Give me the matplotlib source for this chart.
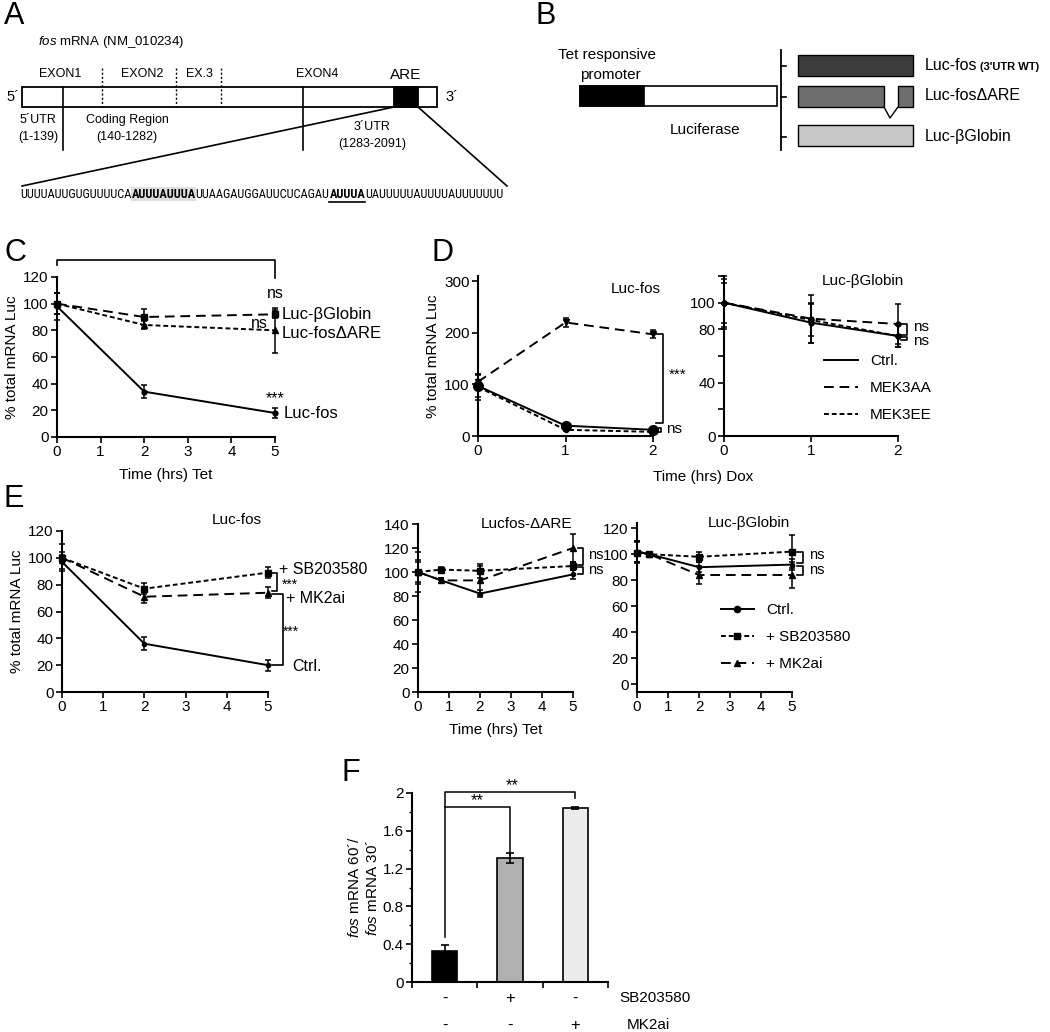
import matplotlib
matplotlib.use("Agg")
import matplotlib.pyplot as plt
from matplotlib import font_manager
from matplotlib.patches import Rectangle

fonts = font_manager.fontManager.ttflist
names = {f.name for f in fonts}
base = 'Liberation Sans' if 'Liberation Sans' in names else 'DejaVu Sans'
# a condensed face for the long RNA sequence, if one is installed
narrow, narrow_stretch = base, 'normal'
for cand in ['Liberation Sans Narrow', 'Roboto Condensed', 'Open Sans Condensed']:
    if cand in names:
        narrow = cand
        break
else:
    if any(f.name == 'DejaVu Sans' and f.stretch == 'condensed' for f in fonts):
        narrow, narrow_stretch = 'DejaVu Sans', 'condensed'
plt.rcParams['font.family'] = [base, 'DejaVu Sans']
plt.rcParams['mathtext.fontset'] = 'custom'
plt.rcParams['mathtext.rm'] = base
plt.rcParams['mathtext.it'] = base + ':italic'

# ---- data ----
# C : decay after Tet
c_t = [0, 2, 5]
c_fos = [98, 34, 18]
c_fos_err = [10, 5, 4]
c_glob = [100, 90, 92]
c_glob_err = [8, 6, 3]
c_dare = [100, 84, 80]
c_dare_err = [8, 3, 17]

# D : Dox chase
d_t = [0, 1, 2]
d_fos_ctrl = [97, 20, 12]
d_fos_ctrl_err = [22, 4, 4]
d_fos_aa = [105, 220, 197]
d_fos_aa_err = [15, 8, 8]
d_fos_ee = [95, 12, 8]
d_fos_ee_err = [25, 3, 3]
d_glob_ctrl = [100, 85, 75]
d_glob_ctrl_err = [20, 15, 8]
d_glob_aa = [100, 88, 84]
d_glob_aa_err = [18, 18, 15]
d_glob_ee = [100, 87, 75]
d_glob_ee_err = [15, 12, 8]
d_legend = ['Ctrl.', 'MEK3AA', 'MEK3EE']

# E : inhibitors
e_t = [0, 2, 5]
e_fos_ctrl = [97, 36, 20]
e_fos_ctrl_err = [5, 5, 4]
e_fos_sb = [100, 77, 89]
e_fos_sb_err = [10, 4, 4]
e_fos_mk = [100, 71, 74]
e_fos_mk_err = [4, 5, 4]
e_dare_t = [0, 0.75, 2, 5]
e_dare_ctrl = [100, 93, 82, 98]
e_dare_ctrl_err = [17, 2, 3, 4]
e_dare_sb = [100, 102, 101, 105]
e_dare_sb_err = [8, 2, 6, 3]
e_dare_mk = [100, 93, 93, 120]
e_dare_mk_err = [10, 2, 12, 12]
e_glob_t = [0, 0.4, 2, 5]
e_glob_ctrl = [102, 100, 90, 92]
e_glob_ctrl_err = [8, 1, 4, 4]
e_glob_sb = [101, 100, 98, 102]
e_glob_sb_err = [8, 1, 4, 13]
e_glob_mk = [102, 100, 84, 84]
e_glob_mk_err = [8, 1, 7, 10]
e_legend = ['Ctrl.', '+ SB203580', '+ MK2ai']

# F : ratio bars
f_vals = [0.33, 1.31, 1.84]
f_err = [0.06, 0.05, 0.01]
f_colors = ['black', '#b0b0b0', '#ececec']
f_sb = ['-', '+', '-']
f_mk = ['-', '-', '+']

LONG = (0, (5, 3))
SHORT = (0, (2.5, 1.5))

W, H = 1050, 1032
fig = plt.figure(figsize=(W / 100, H / 100), dpi=100)

ov = fig.add_axes([0, 0, 1, 1])
ov.set_xlim(0, W)
ov.set_ylim(H, 0)
ov.axis('off')


def px_axes(x0, x1, ybot, ytop):
    ax = fig.add_axes([x0 / W, 1 - ybot / H, (x1 - x0) / W, (ybot - ytop) / H])
    ax.set_facecolor('none')
    for s in ['top', 'right']:
        ax.spines[s].set_visible(False)
    for s in ['left', 'bottom']:
        ax.spines[s].set_linewidth(1.5)
    ax.tick_params(direction='out', length=4, width=1.2, labelsize=11, pad=2)
    return ax


def series(ax, t, y, e, ls, marker, ms=4):
    ax.errorbar(t, y, yerr=e, color='black', linestyle=ls, lw=1.4, marker=marker,
                ms=ms, capsize=2.5, elinewidth=1.1, capthick=1.1, clip_on=False)


def bracket(ax, x0, x1, ya, yb):
    ax.plot([x0, x1, x1, x0], [ya, ya, yb, yb], color='black', lw=1.2, clip_on=False)


# ---- panel letters ----
for lab, x, y in [('A', 4, 1), ('B', 536, 1), ('C', 4, 238), ('D', 432, 238),
                  ('E', 4, 484), ('F', 342, 758)]:
    ov.text(x, y, lab, fontsize=22, va='top', ha='left')

# ---- A : fos mRNA schematic ----
ov.text(38, 42, r'$\it{fos}$ mRNA (NM_010234)', fontsize=9.5, va='center')
ov.add_patch(Rectangle((22, 87), 415, 20, fc='white', ec='black', lw=1.3))
ov.add_patch(Rectangle((394, 87), 24, 20, fc='black', ec='black', lw=1.3))
ov.text(13, 97, '5´', fontsize=10.5, ha='center', va='center')
ov.text(452, 97, '3´', fontsize=10.5, ha='center', va='center')
for lab, x in [('EXON1', 60), ('EXON2', 142), ('EX.3', 199), ('EXON4', 317)]:
    ov.text(x, 74, lab, fontsize=9, ha='center', va='center')
ov.text(406, 75, 'ARE', fontsize=11, ha='center', va='center')
for x in [102, 176, 221]:
    ov.plot([x, x], [68, 107], color='black', lw=1, ls=(0, (1.5, 1.5)))
for x in [63, 303]:
    ov.plot([x, x], [87, 150], color='black', lw=1.2)
for lab, x, y in [('5´UTR', 38, 120), ('(1-139)', 38, 137), ('Coding Region', 127, 120),
                  ('(140-1282)', 127, 137), ('3´UTR', 372, 127), ('(1283-2091)', 372, 144)]:
    ov.text(x, y, lab, fontsize=9, ha='center', va='center')
ov.plot([394, 22], [107, 186], color='black', lw=1.2)
ov.plot([418, 507], [107, 186], color='black', lw=1.2)

seq_parts = [('UUUUAUUGUGUUUUCA', 'normal', None), ('AUUUAUUUA', 'bold', 'shade'),
             ('UUAAGAUGGAUUCUCAGAU', 'normal', None), ('AUUUA', 'bold', 'under'),
             ('UAUUUUUAUUUUAUUUUUUU', 'normal', None)]
r = fig.canvas.get_renderer()
tot = 0
for s, wgt, _ in seq_parts:
    t = ov.text(0, 0, s, fontsize=10, fontweight=wgt, family=narrow, fontstretch=narrow_stretch)
    tot += t.get_window_extent(r).width
    t.remove()
seq_fs = 10 * 487 / tot
x = 20
for s, wgt, deco in seq_parts:
    t = ov.text(x, 194, s, fontsize=seq_fs, fontweight=wgt, family=narrow,
                fontstretch=narrow_stretch, va='center', zorder=3)
    w = t.get_window_extent(r).width
    if deco == 'shade':
        ov.add_patch(Rectangle((x, 187), w, 14, fc='#dedede', ec='none', zorder=1))
    elif deco == 'under':
        ov.plot([x, x + w], [202, 202], color='black', lw=1.2)
    x += w

# ---- B : constructs ----
ov.text(558, 55, 'Tet responsive', fontsize=11, va='center')
ov.text(580, 75, 'promoter', fontsize=11, va='center')
ov.add_patch(Rectangle((580, 86), 197, 20, fc='white', ec='black', lw=1.2))
ov.add_patch(Rectangle((580, 86), 64, 20, fc='black', ec='black', lw=1.2))
ov.text(705, 130, 'Luciferase', fontsize=11, ha='center', va='center')
ov.plot([781, 781], [50, 150], color='black', lw=1.3)
for y in [66, 97, 137]:
    ov.plot([781, 786], [y, y], color='black', lw=1.2)
ov.add_patch(Rectangle((798, 55), 115, 21, fc='#3c3c3c', ec='black', lw=1))
ov.add_patch(Rectangle((798, 86), 86, 21, fc='#6e6e6e', ec='black', lw=1))
ov.add_patch(Rectangle((898, 86), 15, 21, fc='#6e6e6e', ec='black', lw=1))
ov.plot([884, 890, 898], [107, 118, 107], color='black', lw=1)
ov.add_patch(Rectangle((798, 125), 115, 21, fc='#c8c8c8', ec='black', lw=1))
t = ov.text(925, 66, 'Luc-fos', fontsize=11.5, va='center')
wl = t.get_window_extent(r).width
ov.text(925 + wl + 3, 67, "(3'UTR WT)", fontsize=8, fontweight='bold', va='center')
ov.text(925, 96, 'Luc-fosΔARE', fontsize=11.5, va='center')
ov.text(925, 136, 'Luc-βGlobin', fontsize=11.5, va='center')

# ---- C ----
axc = px_axes(57, 275, 437, 277)
series(axc, c_t, c_fos, c_fos_err, '-', 'o', 3.5)
series(axc, c_t, c_glob, c_glob_err, LONG, 's', 4.5)
series(axc, c_t, c_dare, c_dare_err, SHORT, '^', 4.5)
axc.set_xlim(0, 5)
axc.set_ylim(0, 120)
axc.set_xticks(range(6))
axc.set_yticks(range(0, 121, 20))
axc.set_ylabel('% total mRNA Luc', fontsize=11, labelpad=3)
axc.set_xlabel('Time (hrs) Tet', fontsize=11, labelpad=6)
axc.plot([0, 0, 5, 5], [129, 133, 133, 119], color='black', lw=1.2, clip_on=False)
axc.text(5, 108, 'ns', fontsize=11.5, ha='center', va='center')
axc.text(4.65, 85, 'ns', fontsize=11.5, ha='center', va='center')
axc.text(5.15, c_glob[-1], 'Luc-βGlobin', fontsize=12, va='center')
axc.text(5.15, c_dare[-1] - 2, 'Luc-fosΔARE', fontsize=12, va='center')
axc.text(5, 29, '***', fontsize=11.5, ha='center', va='center')
axc.text(5.2, c_fos[-1], 'Luc-fos', fontsize=12, va='center')

# ---- D ----
axd1 = px_axes(478, 653, 436, 276)
series(axd1, d_t, d_fos_ctrl, d_fos_ctrl_err, '-', 'o', 7)
series(axd1, d_t, d_fos_aa, d_fos_aa_err, LONG, 'v', 4)
series(axd1, d_t, d_fos_ee, d_fos_ee_err, SHORT, 'o', 3)
axd1.set_xlim(0, 2)
axd1.set_ylim(0, 310)
axd1.set_xticks(d_t)
axd1.set_yticks([0, 100, 200, 300])
axd1.set_ylabel('% total mRNA Luc', fontsize=11, labelpad=3)
axd1.text(0.9, 0.92, 'Luc-fos', transform=axd1.transAxes, fontsize=11, ha='center', va='center')
bracket(axd1, 2.03, 2.11, d_fos_aa[-1], 25)
bracket(axd1, 2.04, 2.09, 16, 8)
axd1.text(2.18, 118, '***', fontsize=11, va='center')
axd1.text(2.15, 13, 'ns', fontsize=11, va='center')

axd2 = px_axes(724, 898, 436, 276)
series(axd2, d_t, d_glob_ctrl, d_glob_ctrl_err, '-', 'o', 3.5)
series(axd2, d_t, d_glob_aa, d_glob_aa_err, LONG, 'o', 3.5)
series(axd2, d_t, d_glob_ee, d_glob_ee_err, SHORT, 'o', 3.5)
axd2.set_xlim(0, 2)
axd2.set_ylim(0, 120)
axd2.set_xticks(d_t)
axd2.set_yticks([0, 20, 40, 60, 80, 100, 120])
axd2.set_yticklabels(['0', '', '40', '', '80', '100', ''])
axd2.text(0.8, 0.97, 'Luc-βGlobin', transform=axd2.transAxes, fontsize=11, ha='center', va='center')
bracket(axd2, 2.04, 2.1, d_glob_aa[-1], d_glob_ee[-1] + 1)
bracket(axd2, 2.04, 2.1, d_glob_ee[-1] - 1, d_glob_ee[-1] - 3)
axd2.text(2.17, 82, 'ns', fontsize=11, va='center')
axd2.text(2.17, 71, 'ns', fontsize=11, va='center')
hd = [plt.Line2D([], [], color='black', lw=1.4, ls=s) for s in ['-', LONG, SHORT]]
axd2.legend(hd, d_legend, loc='upper left', bbox_to_anchor=(0.54, 0.55), frameon=False,
            fontsize=11, handlelength=2.2, labelspacing=0.85, borderaxespad=0)
ov.text(703, 477, 'Time (hrs) Dox', fontsize=11, ha='center', va='center')

# ---- E ----
axe1 = px_axes(62, 268, 692, 531)
series(axe1, e_t, e_fos_ctrl, e_fos_ctrl_err, '-', 'o', 3)
series(axe1, e_t, e_fos_sb, e_fos_sb_err, SHORT, 's', 4.5)
series(axe1, e_t, e_fos_mk, e_fos_mk_err, LONG, '^', 4.5)
axe1.set_xlim(0, 5)
axe1.set_ylim(0, 120)
axe1.set_xticks(range(6))
axe1.set_yticks(range(0, 121, 20))
axe1.set_ylabel('% total mRNA Luc', fontsize=11, labelpad=3)
axe1.text(0.85, 1.07, 'Luc-fos', transform=axe1.transAxes, fontsize=11, ha='center', va='center')
bracket(axe1, 5.1, 5.22, e_fos_sb[-1], e_fos_mk[-1] + 1)
bracket(axe1, 5.1, 5.36, e_fos_mk[-1] - 1, e_fos_ctrl[-1])
axe1.text(5.27, 91, '+ SB203580', fontsize=11.5, va='center')
axe1.text(5.33, 80, '***', fontsize=10, va='center')
axe1.text(5.44, 70, '+ MK2ai', fontsize=11.5, va='center')
axe1.text(5.36, 45, '***', fontsize=10, va='center')
axe1.text(5.58, 19, 'Ctrl.', fontsize=11.5, va='center')

axe2 = px_axes(418, 573, 692, 524)
series(axe2, e_dare_t, e_dare_ctrl, e_dare_ctrl_err, '-', 'o', 3)
series(axe2, e_dare_t, e_dare_sb, e_dare_sb_err, SHORT, 's', 4.5)
series(axe2, e_dare_t, e_dare_mk, e_dare_mk_err, LONG, '^', 4.5)
axe2.set_xlim(0, 5)
axe2.set_ylim(0, 140)
axe2.set_xticks(range(6))
axe2.set_yticks(range(0, 141, 20))
axe2.set_xlabel('Time (hrs) Tet', fontsize=11, labelpad=6)
axe2.text(0.7, 1.0, 'Lucfos-ΔARE', transform=axe2.transAxes, fontsize=11, ha='center', va='center')
bracket(axe2, 5.15, 5.32, e_dare_mk[-1], e_dare_sb[-1] + 1)
bracket(axe2, 5.15, 5.32, e_dare_sb[-1] - 1, e_dare_ctrl[-1])
axe2.text(5.5, 114, 'ns', fontsize=10.5, va='center')
axe2.text(5.5, 102, 'ns', fontsize=10.5, va='center')

axe3 = px_axes(637, 792, 692, 523)
series(axe3, e_glob_t, e_glob_ctrl, e_glob_ctrl_err, '-', 'o', 3)
series(axe3, e_glob_t, e_glob_sb, e_glob_sb_err, SHORT, 's', 4.5)
series(axe3, e_glob_t, e_glob_mk, e_glob_mk_err, LONG, '^', 4.5)
axe3.set_xlim(0, 5)
axe3.set_ylim(-6, 124)
axe3.set_xticks(range(6))
axe3.set_yticks(range(0, 121, 20))
axe3.text(0.72, 1.0, 'Luc-βGlobin', transform=axe3.transAxes, fontsize=11, ha='center', va='center')
bracket(axe3, 5.15, 5.35, e_glob_sb[-1], e_glob_ctrl[-1] + 1)
bracket(axe3, 5.15, 5.35, e_glob_ctrl[-1] - 1, e_glob_mk[-1])
axe3.text(5.55, 99, 'ns', fontsize=10.5, va='center')
axe3.text(5.55, 88, 'ns', fontsize=10.5, va='center')
he = [plt.Line2D([], [], color='black', lw=1.4, ls=s, marker=m, ms=4.5)
      for s, m in [('-', 'o'), (SHORT, 's'), (LONG, '^')]]
axe3.legend(he, e_legend, loc='upper left', bbox_to_anchor=(0.5, 0.56), frameon=False,
            fontsize=11, handlelength=2.2, labelspacing=0.85, borderaxespad=0)

# ---- F ----
axf = px_axes(412, 608, 982, 793)
axf.bar(range(3), f_vals, width=0.39, color=f_colors, edgecolor='black', lw=1.2,
        yerr=f_err, capsize=3, error_kw=dict(elinewidth=1.2, capthick=1.2))
axf.set_xlim(-0.5, 2.5)
axf.set_ylim(0, 2.0)
axf.set_xticks([-0.5, 0.5, 1.5, 2.5])
axf.set_xticklabels([])
axf.set_yticks([0, 0.4, 0.8, 1.2, 1.6, 2.0])
axf.set_yticklabels(['0', '0.4', '0.8', '1.2', '1.6', '2'])
axf.set_yticks([0.2, 0.6, 1.0, 1.4, 1.8], minor=True)
axf.tick_params(which='minor', direction='out', length=2.5, width=1)
for i in range(3):
    axf.text(i, -0.17, f_sb[i], fontsize=12, ha='center', va='center')
    axf.text(i, -0.46, f_mk[i], fontsize=12, ha='center', va='center')
axf.text(2.68, -0.17, 'SB203580', fontsize=11, va='center')
axf.text(2.79, -0.46, 'MK2ai', fontsize=11, va='center')
axf.plot([0, 0, 2, 2], [0.48, 2.01, 2.01, 1.95], color='black', lw=1.1, clip_on=False)
axf.plot([0, 1, 1], [1.85, 1.85, 1.34], color='black', lw=1.1, clip_on=False)
axf.text(1.03, 2.08, '**', fontsize=12, ha='center', va='center')
axf.text(0.5, 1.92, '**', fontsize=12, ha='center', va='center')
axf.text(-1.38, 1.0, r'$\it{fos}$ mRNA 60´/', rotation=90, fontsize=11, ha='center', va='center')
axf.text(-1.1, 1.0, r'$\it{fos}$ mRNA 30´', rotation=90, fontsize=11, ha='center', va='center')

fig.savefig('out.png', dpi=100)
